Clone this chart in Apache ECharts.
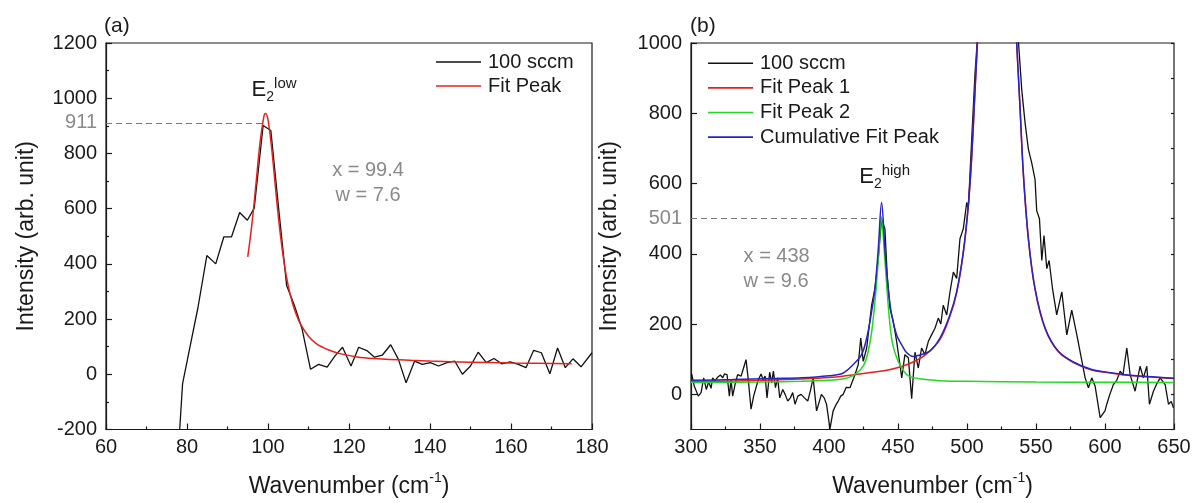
<!DOCTYPE html>
<html>
<head>
    <meta charset="utf-8">
    <title>Raman spectra fit</title>
    <script src="https://cdn.jsdelivr.net/npm/echarts@6/dist/echarts.min.js"></script>
    <style>
        *{ margin:0; padding:0; }
        body{ background:#fff; }
        #main{ width:1196px; height:503px; }
    </style>
</head>
<body>
<div id="main"></div>
<script type="text/javascript">
    // panel (a): low wavenumber, measured spectrum
    var aWave = [78.2, 78.9, 80.7, 82.7, 84.9, 87.1, 89.1, 91.0, 93.0, 94.9, 96.6, 98.8, 100.7, 102.7, 104.6, 106.5, 108.4, 110.5,
        112.5, 114.6, 116.5, 118.4, 120.5, 122.4, 124.4, 126.3, 128.2, 130.3, 132.2, 134.1, 136.2, 138.1, 140.1, 142.1,
        144.2, 146.1, 148.0, 150.0, 151.9, 153.9, 155.8, 157.7, 159.8, 161.8, 163.7, 165.6, 167.5, 169.6, 171.5, 173.4,
        175.3, 177.3, 180.0];
    var aInt = [-200, -35, 97, 241, 430, 400, 498, 498, 586, 558, 602, 901, 883, 590, 322, 250, 165, 18,
        36, 26, 66, 98, 30, 98, 86, 62, 69, 107, 54, -31, 48, 36, 42, 30,
        42, 48, 0, 30, 80, 42, 57, 38, 45, 36, 24, 87, 78, 2, 95, 24,
        56, 27, 78];
    // panel (a): fit peak
    var aFitWave = [95, 96, 97, 98, 99, 99.4, 100, 101, 102, 103, 104, 105, 106, 107, 108, 110, 112, 115, 118, 122, 126, 130, 135, 140, 150, 160, 175];
    var aFitInt = [425, 540, 685, 835, 935, 945, 922, 805, 652, 512, 402, 320, 260, 216, 183, 138, 110, 88, 74, 63, 57, 54, 51, 48, 44, 41, 38];

    // panel (b): high wavenumber, measured spectrum
    var bWave = [300.5, 302.4, 305.3, 307.3, 309.2, 311.1, 312.8, 314.5, 315.7, 317.4, 319.3, 321.3, 323.0, 324.2, 326.1,
        327.8, 329.0, 330.2, 331.9, 333.8, 336.3, 337.7, 339.9, 341.6, 343.5, 345.4, 347.1, 348.8, 350.8, 352.2, 353.7,
        355.1, 357.0, 358.5, 359.7, 361.2, 362.8, 364.3, 366.5, 368.2, 370.1, 372.0, 373.7, 375.4, 377.4, 379.8, 382.2,
        384.6, 386.5, 388.5, 391.0, 394.5, 396.5, 398.2, 400.7, 403.0, 405.0, 406.7, 408.5, 410.3, 412.5, 415.2, 418.8,
        421.2, 423.0, 424.8, 427.3, 430.9, 433.3, 435.7, 438.1, 440.5, 442.2, 444.2, 446.6, 449.0, 451.4, 452.7, 455.0,
        457.5, 459.9, 462.3, 464.7, 467.1, 469.5, 472.0, 474.4, 476.8, 479.2, 481.0, 482.8, 485.3, 487.7, 490.1, 492.5,
        494.9, 497.3, 499.8, 500.9, 503.4, 505.8, 507.5, 512, 520, 528, 534, 537.2, 539.7, 542.1, 544.5, 546.9, 549.3,
        550.5, 552.5, 554.2, 555.8, 557.8, 559.5, 562.0, 565.0, 568.7, 572.3, 575.9, 578.0, 579.6, 582.0, 585.6, 588.0,
        590.4, 592.8, 596.5, 600.0, 601.3, 603.5, 606.1, 608.5, 611.0, 613.0, 615.8, 618.2, 621.8, 625.4, 627.8, 630.3,
        632.2, 635.1, 637.5, 640.0, 643.6, 646.0, 648.0, 649.6];
    var bInt = [58, 23, -5, 5, 47, 14, 36, 17, 47, 38, 49, 55, 47, 58, 56,
        -5, 42, -5, 28, 56, 52, 70, 99, 38, -42, -5, 19, 42, 58, 42, 52,
        -10, 63, 33, 66, 19, 47, -10, 14, 0, -19, -10, 5, -28, -5, 0, -10,
        -19, 10, 47, -47, 0, -10, -28, -98, -47, -30, -19, -5, 0, 20, 19, 56,
        85, 160, 94, 132, 254, 301, 386, 499, 471, 339, 245, 207, 151, 85, 47, 113,
        104, -12, 120, 75, 132, 113, 151, 170, 188, 217, 200, 254, 226, 292, 348, 330,
        443, 471, 546, 527, 725, 913, 1010, 1250, 1450, 1400, 1150, 1008, 866, 772, 697, 659, 612,
        523, 500, 381, 452, 358, 381, 300, 226, 292, 169, 240, 200, 169, 120, 47, 19,
        47, 24, -66, -47, -28, 0, 28, 40, 66, 55, 132, 56, 9, 80, 47, 80,
        -28, 9, 30, 47, 28, -28, -20, -38];
    // panel (b): fit peak 1 (broad band)
    var bP1Wave = [300, 340, 380, 400, 417.6, 430, 440, 451.4, 461, 470, 480.4, 487.6, 492.5, 497.3, 500.9, 503.4, 505.8, 508,
        512, 521, 530, 534, 536, 538.4, 540.8, 544.5, 549.3, 556.6, 566.2, 578.3, 590.4, 600, 615, 630, 650];
    var bP1Int = [37, 39, 44, 48, 56, 62, 67, 78, 92, 113, 156, 222, 289, 402, 534, 675, 863, 1037,
        1398, 1998, 1498, 1148, 998, 817, 629, 441, 299, 187, 121, 88, 69, 63, 55, 50, 45];
    // panel (b): fit peak 2 (E2 high)
    var bP2Wave = [300, 350, 380, 400, 410, 415, 420, 425, 428, 431, 434, 436, 438, 440, 442, 444, 446, 449, 452, 456, 460, 470, 480, 500, 550, 600, 650];
    var bP2Int = [34, 35, 37, 40, 44, 49, 60, 82, 115, 180, 295, 400, 505, 410, 300, 205, 145, 105, 80, 57, 49, 42, 39, 37, 35, 34.5, 34];
    // panel (b): cumulative fit
    var bCumWave = [300, 330, 360, 380, 400, 410, 417.6, 423.6, 427.3, 430.9, 433.3, 435.7, 438.1, 440.5, 442.9, 445.4, 449,
        452.7, 456, 461, 466, 473, 480.4, 487.6, 492.5, 497.3, 500.9, 503.4, 505.8, 508, 512, 521, 530, 534, 536, 538.4,
        540.8, 544.5, 549.3, 556.6, 566.2, 578.3, 590.4, 600, 615, 630, 650];
    var bCumInt = [40, 42, 45, 47, 53, 60, 85, 113, 160, 236, 301, 414, 546, 414, 301, 226, 169,
        141, 120, 108, 112, 123, 160, 226, 292, 405, 537, 678, 866, 1040, 1400, 2000, 1500, 1150, 1000, 819,
        631, 443, 301, 189, 123, 90, 71, 64, 56, 51, 46];

    var aPeakLevel = 911, bPeakLevel = 501;

    (function(){
        var FONT = '"Liberation Sans", Arial, sans-serif';
        var INK = '#1a1a1a';
        var GRAY = '#8a8a8a';
        function pairs(xs, ys) {
            return xs.map(function (x, i) { return [x, ys[i]]; });
        }
        function plain(v) { return String(v); }
        var e2Rich = {
            e: {fontSize: 22, color: INK, lineHeight: 28, verticalAlign: 'middle', fontFamily: FONT},
            s: {fontSize: 14, color: INK, lineHeight: 14, verticalAlign: 'bottom', fontFamily: FONT},
            p: {fontSize: 15, color: INK, lineHeight: 14, verticalAlign: 'top', fontFamily: FONT}
        };
        var titleRich = {
            t: {fontSize: 23, color: INK, fontFamily: FONT, lineHeight: 30, verticalAlign: 'middle'},
            u: {fontSize: 14, color: INK, fontFamily: FONT, lineHeight: 14, verticalAlign: 'top'}
        };
        function xAxisBase(grid, min, max, interval) {
            return {
                gridIndex: grid, type: 'value', min: min, max: max, interval: interval,
                axisLine: {onZero: false, lineStyle: {color: INK, width: 1.2}},
                axisTick: {inside: true, length: 6, lineStyle: {color: INK, width: 1.2}},
                minorTick: {show: true, splitNumber: 2, length: 3, lineStyle: {color: INK, width: 1.2}},
                axisLabel: {fontSize: 20, color: INK, margin: 8, fontFamily: FONT, formatter: plain},
                splitLine: {show: false},
                name: '{t|Wavenumber (cm}{u|-1}{t|)}',
                nameLocation: 'middle', nameGap: 42,
                nameTextStyle: {rich: titleRich}
            };
        }
        var yName = {
            name: 'Intensity (arb. unit)', nameLocation: 'middle',
            nameTextStyle: {fontSize: 23, color: INK, fontFamily: FONT}
        };
        var peakLine = function (x0, x1, level) {
            return {
                silent: true, symbol: ['none', 'none'],
                lineStyle: {color: '#777', type: [6, 4], width: 1},
                label: {show: true, position: 'start', formatter: String(level), color: GRAY, fontSize: 20, distance: 9, fontFamily: FONT},
                data: [[{coord: [x0, level]}, {coord: [x1, level]}]]
            };
        };
        var note = function (coord, text, rich, align) {
            return {
                coord: coord, symbol: 'circle', symbolSize: 1,
                itemStyle: {color: 'rgba(0,0,0,0)'},
                label: {show: true, position: 'inside', formatter: text, rich: rich, align: align || 'center',
                    color: GRAY, fontSize: 20, lineHeight: 25, fontFamily: FONT}
            };
        };

        var dom = document.getElementById('main');
        var myChart = echarts.init(dom);
        var option = {
            animation: false,
            textStyle: {fontFamily: FONT},
            title: [
                {text: '(a)', left: 104, top: 16, padding: 0, textStyle: {fontSize: 21, fontWeight: 'normal', color: INK}},
                {text: '(b)', left: 690, top: 16, padding: 0, textStyle: {fontSize: 21, fontWeight: 'normal', color: INK}}
            ],
            grid: [
                {left: 106, top: 43, width: 486, height: 390, show: true, borderColor: INK, borderWidth: 1.2},
                {left: 691, top: 43, width: 483, height: 390, show: true, borderColor: INK, borderWidth: 1.2}
            ],
            legend: [
                {
                    orient: 'vertical', left: 436, top: 50, padding: 0, itemGap: 0,
                    itemWidth: 45, itemHeight: 1.6, icon: 'rect',
                    textStyle: {fontSize: 20, color: INK, lineHeight: 24, padding: [0, 0, 0, 2]},
                    data: ['100 sccm', 'Fit Peak']
                },
                {
                    orient: 'vertical', left: 708, top: 51, padding: 0, itemGap: 0,
                    itemWidth: 45, itemHeight: 1.6, icon: 'rect',
                    textStyle: {fontSize: 20, color: INK, lineHeight: 24.6, padding: [0, 0, 0, 2]},
                    data: ['100 sccm ', 'Fit Peak 1', 'Fit Peak 2', 'Cumulative Fit Peak']
                }
            ],
            xAxis: [
                xAxisBase(0, 60, 180, 20),
                xAxisBase(1, 300, 650, 50)
            ],
            yAxis: [
                Object.assign({
                    gridIndex: 0, type: 'value', min: -200, max: 1200, interval: 200, nameGap: 68,
                    axisLine: {onZero: false, lineStyle: {color: INK, width: 1.2}},
                    axisTick: {inside: true, length: 6, lineStyle: {color: INK, width: 1.2}},
                    minorTick: {show: true, splitNumber: 2, length: 3, lineStyle: {color: INK, width: 1.2}},
                    axisLabel: {fontSize: 20, color: INK, margin: 9, fontFamily: FONT, formatter: plain},
                    splitLine: {show: false}
                }, yName),
                Object.assign({
                    gridIndex: 1, type: 'value', min: -100, max: 1000, nameGap: 70,
                    axisLine: {onZero: false, lineStyle: {color: INK, width: 1.2}},
                    axisTick: {inside: true, length: 6, lineStyle: {color: INK, width: 1.2}, customValues: [0, 200, 400, 600, 800, 1000]},
                    axisLabel: {fontSize: 20, color: INK, margin: 9, fontFamily: FONT, formatter: plain, customValues: [0, 200, 400, 600, 800, 1000]},
                    splitLine: {show: false}
                }, yName),
                {
                    // minor ticks of panel (b)
                    gridIndex: 1, type: 'value', min: -100, max: 1000, interval: 100,
                    axisLine: {show: false, onZero: false},
                    axisTick: {inside: true, length: 3, lineStyle: {color: INK, width: 1.2}},
                    axisLabel: {show: false},
                    splitLine: {show: false}
                }
            ],
            series: [
                {
                    name: '100 sccm', type: 'line', xAxisIndex: 0, yAxisIndex: 0,
                    data: pairs(aWave, aInt), symbol: 'none', color: '#111',
                    lineStyle: {width: 1.3, color: '#111'},
                    markLine: peakLine(60, 99, aPeakLevel),
                    markPoint: {
                        silent: true,
                        data: [
                            note([101.5, 1029], '{e|E}{s|2}{p|low}', e2Rich),
                            note([124.7, 692], 'x = 99.4\nw = 7.6')
                        ]
                    }
                },
                {
                    name: 'Fit Peak', type: 'line', xAxisIndex: 0, yAxisIndex: 0,
                    data: pairs(aFitWave, aFitInt), symbol: 'none', smooth: 0.35, color: '#e8201c',
                    lineStyle: {width: 1.5, color: '#e8201c'}
                },
                {
                    name: '100 sccm ', type: 'line', xAxisIndex: 1, yAxisIndex: 1,
                    data: pairs(bWave, bInt), symbol: 'none', color: '#111',
                    lineStyle: {width: 1.3, color: '#111'},
                    markLine: peakLine(300, 438, bPeakLevel),
                    markPoint: {
                        silent: true,
                        data: [
                            note([440.3, 618], '{e|E}{s|2}{p|high}', e2Rich),
                            note([338.1, 356], 'x = 438\nw = 9.6', null, 'left')
                        ]
                    }
                },
                {
                    name: 'Fit Peak 1', type: 'line', xAxisIndex: 1, yAxisIndex: 1,
                    data: pairs(bP1Wave, bP1Int), symbol: 'none', smooth: 0.35, color: '#e8201c',
                    lineStyle: {width: 1.5, color: '#e8201c'}
                },
                {
                    name: 'Fit Peak 2', type: 'line', xAxisIndex: 1, yAxisIndex: 1,
                    data: pairs(bP2Wave, bP2Int), symbol: 'none', smooth: 0.35, color: '#22d822',
                    lineStyle: {width: 1.5, color: '#22d822'}
                },
                {
                    name: 'Cumulative Fit Peak', type: 'line', xAxisIndex: 1, yAxisIndex: 1,
                    data: pairs(bCumWave, bCumInt), symbol: 'none', smooth: 0.35, color: '#2424c8',
                    lineStyle: {width: 1.5, color: '#2424c8'}
                }
            ]
        };
        myChart.setOption(option, true);
    })();
</script>
</body>
</html>
